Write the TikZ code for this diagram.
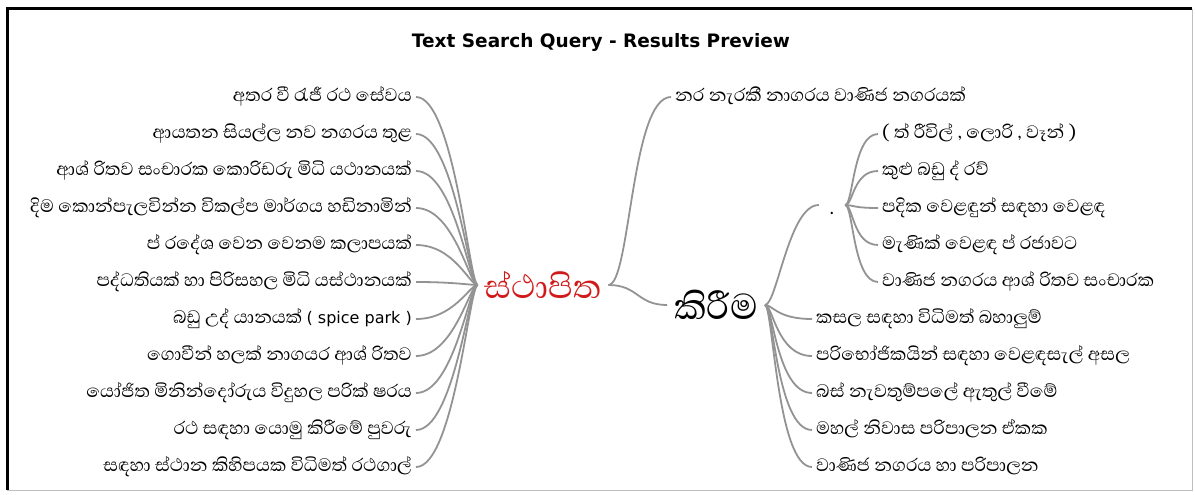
\documentclass[tikz,border=0pt]{standalone}
\usepackage{fontspec}
\setmainfont{DejaVu Sans}
\newfontfamily\sinhala[Script=Sinhala]{Abhaya Libre}
\usetikzlibrary{positioning}

\begin{document}
\begin{tikzpicture}[x=1pt, y=-1pt,
  leaf/.style={font=\sinhala\fontsize{23}{26}\selectfont, inner sep=4pt, text height=15pt, text depth=6pt},
  core/.style={font=\sinhala\fontsize{42}{46}\selectfont, inner sep=7pt},
  branch/.style={draw=gray!85, line width=1.8pt}]
  \useasboundingbox (0,0) rectangle (1195,495);
  % frame
  \draw[line width=3pt] (7,490) -- (7,9) -- (1192,9);
  \draw[gray!50, line width=1pt] (7,490) -- (1192,490) -- (1192,9);
  \node[font=\bfseries\fontsize{18.5}{21}\selectfont] (title) at (601,42) {Text Search Query - Results Preview};

  % centre
  \node[core, text=red!80!black!90] (sthapita) at (543,285) {ස්ථාපිත};
  \node[core, font=\sinhala\fontsize{46}{50}\selectfont] (kirima) at (716,305) {කිරීම};
  \node[leaf, text height=2pt, text depth=2pt, minimum width=26pt] (dot) at (832,205) {\raisebox{-9pt}{.}};

  % left side
  \node[leaf, anchor=east] (l1) at (416,97) {අතර වී රැජී රථ සේවය};
  \node[leaf, anchor=east] (l2) at (416,134) {ආයතන සියල්ල නව නගරය තුළ};
  \node[leaf, anchor=east] (l3) at (416,171) {ආශ් රිතව සංචාරක කොරිඩරු මිධි යථානයක්};
  \node[leaf, anchor=east] (l4) at (416,208) {දිම කොන්පැලවින්න විකල්ප මාර්ගය හඩිනාමින්};
  \node[leaf, anchor=east] (l5) at (416,245) {ප් රදේශ වෙන වෙනම කලාපයක්};
  \node[leaf, anchor=east] (l6) at (416,282) {පද්ධතියක් හා පිරිසහල මිධි යස්ථානයක්};
  \node[leaf, anchor=east] (l7) at (416,319) {බඩු උද් යානයක් {\rmfamily\fontsize{16}{18}\selectfont( spice park )}};
  \node[leaf, anchor=east] (l8) at (416,356) {ගොවීන් හලක් නාගයර ආශ් රිතව};
  \node[leaf, anchor=east] (l9) at (416,393) {යෝජිත මිනින්දෝරුය විදුහල පරික් ෂරය};
  \node[leaf, anchor=east] (l10) at (416,430) {රථ සඳහා යොමු කිරීමේ පුවරු};
  \node[leaf, anchor=east] (l11) at (416,467) {සඳහා ස්ථාන කිහිපයක විධිමත් රථගාල්};

  % right side
  \node[leaf, anchor=west] (r1) at (671,97) {නර නැරකී නාගරය වාණිජ නගරයක්};
  \node[leaf, anchor=west] (d1) at (878,134) {( ත් රීවිල් , ලොරි , වෑන් )};
  \node[leaf, anchor=west] (d2) at (878,171) {කුළු බඩු ද් රව්};
  \node[leaf, anchor=west] (d3) at (878,208) {පදික වෙළඳුන් සඳහා වෙළඳ};
  \node[leaf, anchor=west] (d4) at (878,245) {මැණික් වෙළඳ ප් රජාවට};
  \node[leaf, anchor=west] (d5) at (878,282) {වාණිජ නගරය ආශ් රිතව සංචාරක};
  \node[leaf, anchor=west] (k1) at (812,319) {කසල සඳහා විධිමත් බහාලුම්};
  \node[leaf, anchor=west] (k2) at (812,356) {පරිභෝජිකයින් සඳහා වෙළඳසැල් අසල};
  \node[leaf, anchor=west] (k3) at (812,393) {බස් නැවතුම්පලේ ඇතුල් වීමේ};
  \node[leaf, anchor=west] (k4) at (812,430) {මහල් නිවාස පරිපාලන ඒකක};
  \node[leaf, anchor=west] (k5) at (812,467) {වාණිජ නගරය හා පරිපාලන};

  % branches
  \draw[branch] (sthapita.west) .. controls +(-8,0) and +(38,0) .. (l1.east);
  \draw[branch] (sthapita.west) .. controls +(-8,0) and +(38,0) .. (l2.east);
  \draw[branch] (sthapita.west) .. controls +(-8,0) and +(38,0) .. (l3.east);
  \draw[branch] (sthapita.west) .. controls +(-8,0) and +(38,0) .. (l4.east);
  \draw[branch] (sthapita.west) .. controls +(-8,0) and +(38,0) .. (l5.east);
  \draw[branch] (sthapita.west) .. controls +(-8,0) and +(38,0) .. (l6.east);
  \draw[branch] (sthapita.west) .. controls +(-8,0) and +(38,0) .. (l7.east);
  \draw[branch] (sthapita.west) .. controls +(-8,0) and +(38,0) .. (l8.east);
  \draw[branch] (sthapita.west) .. controls +(-8,0) and +(38,0) .. (l9.east);
  \draw[branch] (sthapita.west) .. controls +(-8,0) and +(38,0) .. (l10.east);
  \draw[branch] (sthapita.west) .. controls +(-8,0) and +(38,0) .. (l11.east);
  \draw[branch] (sthapita.east) .. controls +(22,0) and +(-40,0) .. (r1.west);
  \draw[branch] (sthapita.east) .. controls +(30,0) and +(-30,0) .. (kirima.west);
  \draw[branch] (kirima.east) .. controls +(12,0) and +(-30,0) .. (dot.west);
  \draw[branch] (dot.east) .. controls +(8,0) and +(-25,0) .. (d1.west);
  \draw[branch] (dot.east) .. controls +(8,0) and +(-25,0) .. (d2.west);
  \draw[branch] (dot.east) .. controls +(8,0) and +(-25,0) .. (d3.west);
  \draw[branch] (dot.east) .. controls +(8,0) and +(-25,0) .. (d4.west);
  \draw[branch] (dot.east) .. controls +(8,0) and +(-25,0) .. (d5.west);
  \draw[branch] (kirima.east) .. controls +(8,0) and +(-35,0) .. (k1.west);
  \draw[branch] (kirima.east) .. controls +(8,0) and +(-35,0) .. (k2.west);
  \draw[branch] (kirima.east) .. controls +(8,0) and +(-35,0) .. (k3.west);
  \draw[branch] (kirima.east) .. controls +(8,0) and +(-35,0) .. (k4.west);
  \draw[branch] (kirima.east) .. controls +(8,0) and +(-35,0) .. (k5.west);
\end{tikzpicture}
\end{document}
